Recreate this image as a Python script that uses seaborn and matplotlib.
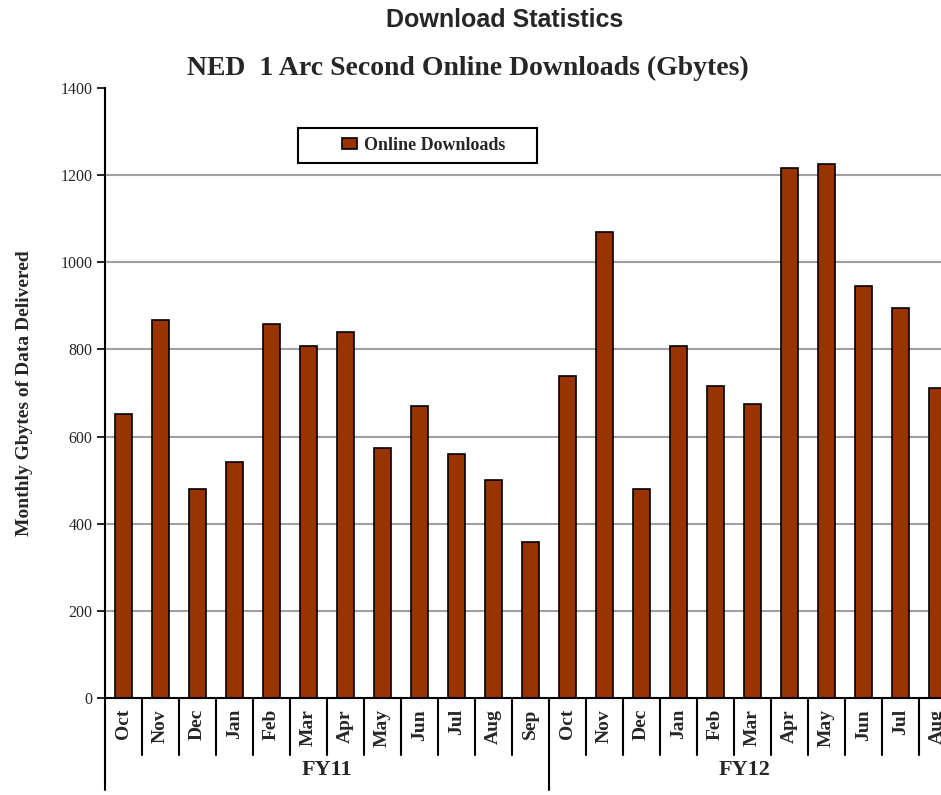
import pandas as pd
import matplotlib
matplotlib.use('Agg')
import matplotlib.pyplot as plt
import matplotlib.transforms as mtransforms
from matplotlib.patches import Rectangle
import seaborn as sns

# Data
months = ['Oct', 'Nov', 'Dec', 'Jan', 'Feb', 'Mar', 'Apr', 'May', 'Jun', 'Jul', 'Aug', 'Sep',
          'Oct', 'Nov', 'Dec', 'Jan', 'Feb', 'Mar', 'Apr', 'May', 'Jun', 'Jul', 'Aug']
fiscal_years = ['FY11'] * 12 + ['FY12'] * 11
gbytes = [652, 868, 480, 542, 858, 808, 840, 574, 670, 560, 500, 358,
          739, 1070, 480, 808, 716, 675, 1216, 1226, 946, 895, 711]
yticks = [0, 200, 400, 600, 800, 1000, 1200, 1400]

df = pd.DataFrame({'month': months, 'fy': fiscal_years, 'gb': gbytes})
df['key'] = df['fy'] + ' ' + df['month']

sns.set_style('white')
serif = ['Liberation Serif', 'DejaVu Serif']
plt.rcParams['font.family'] = serif

fig = plt.figure(figsize=(9.41, 7.95), dpi=100)
ax = fig.add_axes([105 / 941, 1 - 698 / 795, 836 / 941, 610 / 795])

sns.barplot(data=df, x='key', y='gb', order=df['key'], color='#993300',
            edgecolor='black', linewidth=1.2, width=0.46, ax=ax,
            label='Online Downloads', saturation=1)

n = len(df)
ax.set_xlim(-0.5, 836 / 37 - 0.5)
ax.set_ylim(0, 1400)
ax.set_yticks(yticks)
ax.set_yticklabels([str(v) for v in yticks], fontsize=11.5)
ax.set_xticks(range(n))
ax.set_xticklabels(months, rotation=90, fontsize=14, fontweight='bold', va='top')
ax.tick_params(axis='x', length=0, pad=8)
ax.tick_params(axis='y', length=6, width=1.2, color='black', direction='out', left=True, pad=3)

for v in yticks[1:-1]:
    ax.axhline(v, color='#a0a0a0', linewidth=1.5, zorder=0)

for s in ['top', 'right']:
    ax.spines[s].set_visible(False)
for s in ['left', 'bottom']:
    ax.spines[s].set_color('black')
    ax.spines[s].set_linewidth(1.5)

ax.set_xlabel('')
ax.set_ylabel('Monthly Gbytes of Data Delivered', fontsize=14, fontweight='bold', labelpad=20)

# category separators below the axis
trans = mtransforms.blended_transform_factory(ax.transData, ax.transAxes)
for i in range(n - 1):
    if i == 11:
        continue
    ax.plot([i + 0.5, i + 0.5], [0, -57 / 610], color='black', linewidth=1.5,
            transform=trans, clip_on=False)
for xb in [-0.5, 11.5]:
    ax.plot([xb, xb], [0, -92 / 610], color='black', linewidth=1.5,
            transform=trans, clip_on=False)

# fiscal year group labels
ax.text(5.5, -72 / 610, 'FY11', transform=trans, ha='center', va='center',
        fontsize=16, fontweight='bold')
ax.text((11.5 + ax.get_xlim()[1]) / 2, -72 / 610, 'FY12', transform=trans,
        ha='center', va='center', fontsize=16, fontweight='bold')

# legend box drawn as a plain frame, entry centred inside it
ax.add_patch(Rectangle((193 / 836, 535 / 610), 239 / 836, 35 / 610, transform=ax.transAxes,
                       facecolor='white', edgecolor='black', linewidth=1.5,
                       clip_on=False, zorder=4))
leg = ax.legend(loc='center', bbox_to_anchor=(318.5 / 836, 552.5 / 610), frameon=False,
                prop={'family': serif, 'weight': 'bold', 'size': 13},
                handlelength=0.85, handleheight=0.55, handletextpad=0.35,
                borderpad=0, borderaxespad=0)
leg.set_zorder(5)

fig.text(505 / 941, 1 - 20 / 795, 'Download Statistics', ha='center', va='center',
         fontsize=18, fontweight='bold', family=['Liberation Sans', 'DejaVu Sans'])
fig.text(468 / 941, 1 - 68 / 795, 'NED  1 Arc Second Online Downloads (Gbytes)',
         ha='center', va='center', fontsize=20, fontweight='bold')

fig.savefig('out.png', dpi=100)
